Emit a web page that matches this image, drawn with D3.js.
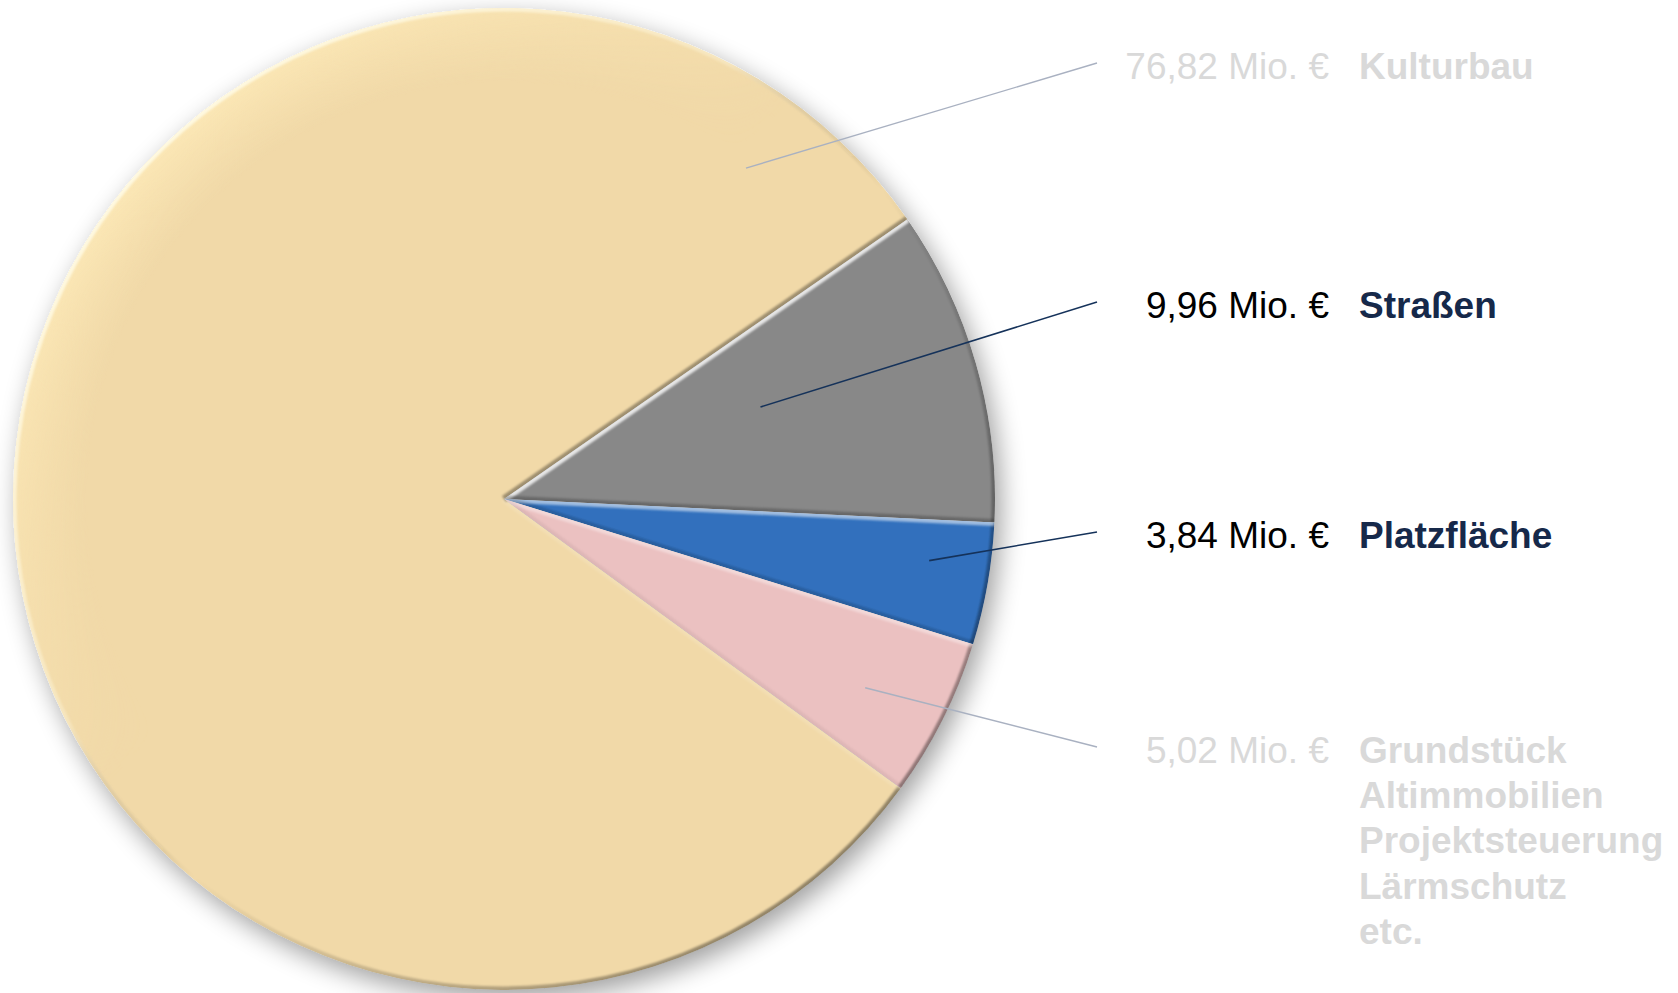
<!DOCTYPE html>
<html>
<head>
<meta charset="utf-8">
<script src="https://cdn.jsdelivr.net/npm/d3@7"></script>
<style>
  html, body { margin: 0; padding: 0; background: #ffffff; }
  svg { display: block; }
  text { font-family: "Liberation Sans", Arial, Helvetica, sans-serif; }
</style>
</head>
<body>
<svg id="chart" width="1678" height="993"></svg>
<script>
// ---- data ----
const categories = ["Kulturbau", "Straßen", "Platzfläche", "Grundstück"];
const categoryLines = [
  ["Kulturbau"],
  ["Straßen"],
  ["Platzfläche"],
  ["Grundstück", "Altimmobilien", "Projektsteuerung", "Lärmschutz", "etc."]
];
const values = [76.82, 9.96, 3.84, 5.02];
const unitSuffix = " Mio. €";

// ---- style ----
const sliceColors = ["#f1d9a8", "#888888", "#3170bd", "#ebc1c1"];
const emphasized = [false, true, true, false];
const mutedText = "#d9d9d9";
const mutedLine = "#a9b1c1";
const strongValueText = "#000000";
const strongCatText = "#16294a";
const strongLine = "#15325a";

// ---- layout ----
const W = 1678, H = 993;
const cx = 504, cy = 499, R = 491;
const startDeg = 126.1;
const labelLineY = [63, 302, 532, 747];
const leaderEndX = 1097;
const valueRightX = 1329;
const catLeftX = 1359;
const leaderAnchor = [[0.934, 0.835], [0.40, 0.555], [0.38, 0.875], [0.55, 0.83]];
const fontSize = 37, lineGap = 45.2, baselineShift = 16;
const lightDeg = 315; // light from top-left (compass)
const glowWidth = 75;

const deLocale = d3.formatLocale({decimal: ",", thousands: ".", grouping: [3], currency: ["", " €"]});
const fmt = deLocale.format(".2f");

const svg = d3.select("#chart");
const defs = svg.append("defs");

// drop shadow for whole pie
const sh = defs.append("filter").attr("id", "shadow")
  .attr("x", "-10%").attr("y", "-10%").attr("width", "125%").attr("height", "125%");
sh.append("feGaussianBlur").attr("in", "SourceAlpha").attr("stdDeviation", 13).attr("result", "b");
sh.append("feOffset").attr("in", "b").attr("dx", 6).attr("dy", 9).attr("result", "o");
sh.append("feComponentTransfer").attr("in", "o").attr("result", "o2")
  .append("feFuncA").attr("type", "linear").attr("slope", 0.38);
const shm = sh.append("feMerge");
shm.append("feMergeNode").attr("in", "o2");
shm.append("feMergeNode").attr("in", "SourceGraphic");

// small blur for bevel rims
defs.append("filter").attr("id", "blurS").attr("filterUnits", "userSpaceOnUse")
  .attr("x", -R - 50).attr("y", -R - 50).attr("width", 2 * R + 100).attr("height", 2 * R + 100)
  .append("feGaussianBlur").attr("stdDeviation", 0.9);

// rim gradient along the light direction (user space, centred on pie)
const k = R / Math.SQRT2;
const rimG = defs.append("linearGradient").attr("id", "rimArc").attr("gradientUnits", "userSpaceOnUse")
  .attr("x1", -k).attr("y1", -k).attr("x2", k).attr("y2", k);
rimG.append("stop").attr("offset", "0%").attr("stop-color", "#fffbe6").attr("stop-opacity", 0.9);
rimG.append("stop").attr("offset", "35%").attr("stop-color", "#fffbe6").attr("stop-opacity", 0.3);
rimG.append("stop").attr("offset", "55%").attr("stop-color", "#000000").attr("stop-opacity", 0.0);
rimG.append("stop").attr("offset", "100%").attr("stop-color", "#000000").attr("stop-opacity", 0.4);

// soft glow ring: radial falloff, masked by light direction
const ringR = defs.append("radialGradient").attr("id", "ringRadial").attr("gradientUnits", "userSpaceOnUse")
  .attr("cx", 0).attr("cy", 0).attr("r", R);
ringR.append("stop").attr("offset", ((R - glowWidth) / R)).attr("stop-color", "#ffecba").attr("stop-opacity", 0);
ringR.append("stop").attr("offset", 1).attr("stop-color", "#ffecba").attr("stop-opacity", 0.75);
const dirG = defs.append("linearGradient").attr("id", "dirGrad").attr("gradientUnits", "userSpaceOnUse")
  .attr("x1", -k).attr("y1", -k).attr("x2", k).attr("y2", k);
dirG.append("stop").attr("offset", "0%").attr("stop-color", "#ffffff");
dirG.append("stop").attr("offset", "42%").attr("stop-color", "#000000");
dirG.append("stop").attr("offset", "100%").attr("stop-color", "#000000");
defs.append("mask").attr("id", "dirMask").attr("maskUnits", "userSpaceOnUse")
  .attr("x", -R - 10).attr("y", -R - 10).attr("width", 2 * R + 20).attr("height", 2 * R + 20)
  .append("rect").attr("x", -R - 10).attr("y", -R - 10).attr("width", 2 * R + 20).attr("height", 2 * R + 20)
  .attr("fill", "url(#dirGrad)");

const rad = d => d * Math.PI / 180;
const pie = d3.pie().sort(null).value(d => d)
  .startAngle(rad(startDeg)).endAngle(rad(startDeg) + 2 * Math.PI);
const arcs = pie(values);
const arc = d3.arc().innerRadius(0).outerRadius(R);
const ringArc = d3.arc().innerRadius(R - glowWidth).outerRadius(R);

arcs.forEach((d, i) => {
  defs.append("clipPath").attr("id", "clip" + i).append("path").attr("d", arc(d));
});

const pieG = svg.append("g").attr("transform", `translate(${cx},${cy})`).attr("filter", "url(#shadow)");
const sliceG = pieG.selectAll("g.slice").data(arcs).enter().append("g")
  .attr("class", "slice")
  .attr("clip-path", (d, i) => `url(#clip${i})`);

sliceG.append("path").attr("d", arc).attr("fill", (d, i) => sliceColors[i]);

// soft highlight ring on light-facing outer edge
sliceG.append("path").attr("d", ringArc).attr("fill", "url(#ringRadial)").attr("mask", "url(#dirMask)");

const outerArcPath = d => {
  const p = d3.path();
  p.arc(0, 0, R, d.startAngle - Math.PI / 2, d.endAngle - Math.PI / 2);
  return p.toString();
};
// narrow bevel rim on outer edge
sliceG.append("path").attr("d", outerArcPath).attr("fill", "none")
  .attr("stroke", "url(#rimArc)").attr("stroke-width", 7).attr("filter", "url(#blurS)");

// bevel on radial edges
const edgeShade = (normalDeg) => Math.cos(rad(normalDeg - lightDeg));
sliceG.each(function (d) {
  const g = d3.select(this);
  const edges = [
    {a: d.startAngle, n: d.startAngle * 180 / Math.PI - 90},
    {a: d.endAngle, n: d.endAngle * 180 / Math.PI + 90}
  ];
  edges.forEach(e => {
    const b = edgeShade(e.n);
    g.append("line")
      .attr("x1", 0).attr("y1", 0)
      .attr("x2", R * Math.sin(e.a)).attr("y2", -R * Math.cos(e.a))
      .attr("stroke", b > 0 ? "#ffffff" : "#000000")
      .attr("stroke-opacity", b > 0 ? 0.8 * b : 0.35 * -b)
      .attr("stroke-width", 7)
      .attr("filter", "url(#blurS)");
  });
});

// leader lines
const polar = (a, r) => [cx + r * Math.sin(a), cy - r * Math.cos(a)];
arcs.forEach((d, i) => {
  const [t, rf] = leaderAnchor[i];
  const a = d.startAngle + t * (d.endAngle - d.startAngle);
  const [x0, y0] = polar(a, rf * R);
  svg.append("line")
    .attr("x1", x0).attr("y1", y0)
    .attr("x2", leaderEndX).attr("y2", labelLineY[i])
    .attr("stroke", emphasized[i] ? strongLine : mutedLine)
    .attr("stroke-width", emphasized[i] ? 1.6 : 1.4);
});

// labels
values.forEach((v, i) => {
  const base = labelLineY[i] + baselineShift;
  svg.append("text")
    .attr("x", valueRightX).attr("y", base)
    .attr("text-anchor", "end")
    .attr("font-size", fontSize)
    .attr("fill", emphasized[i] ? strongValueText : mutedText)
    .text(fmt(v) + unitSuffix);
  const t = svg.append("text")
    .attr("font-size", fontSize)
    .attr("font-weight", "bold")
    .attr("fill", emphasized[i] ? strongCatText : mutedText);
  categoryLines[i].forEach((ln, kk) => {
    t.append("tspan").attr("x", catLeftX).attr("y", base + kk * lineGap).text(ln);
  });
});
</script>
</body>
</html>
